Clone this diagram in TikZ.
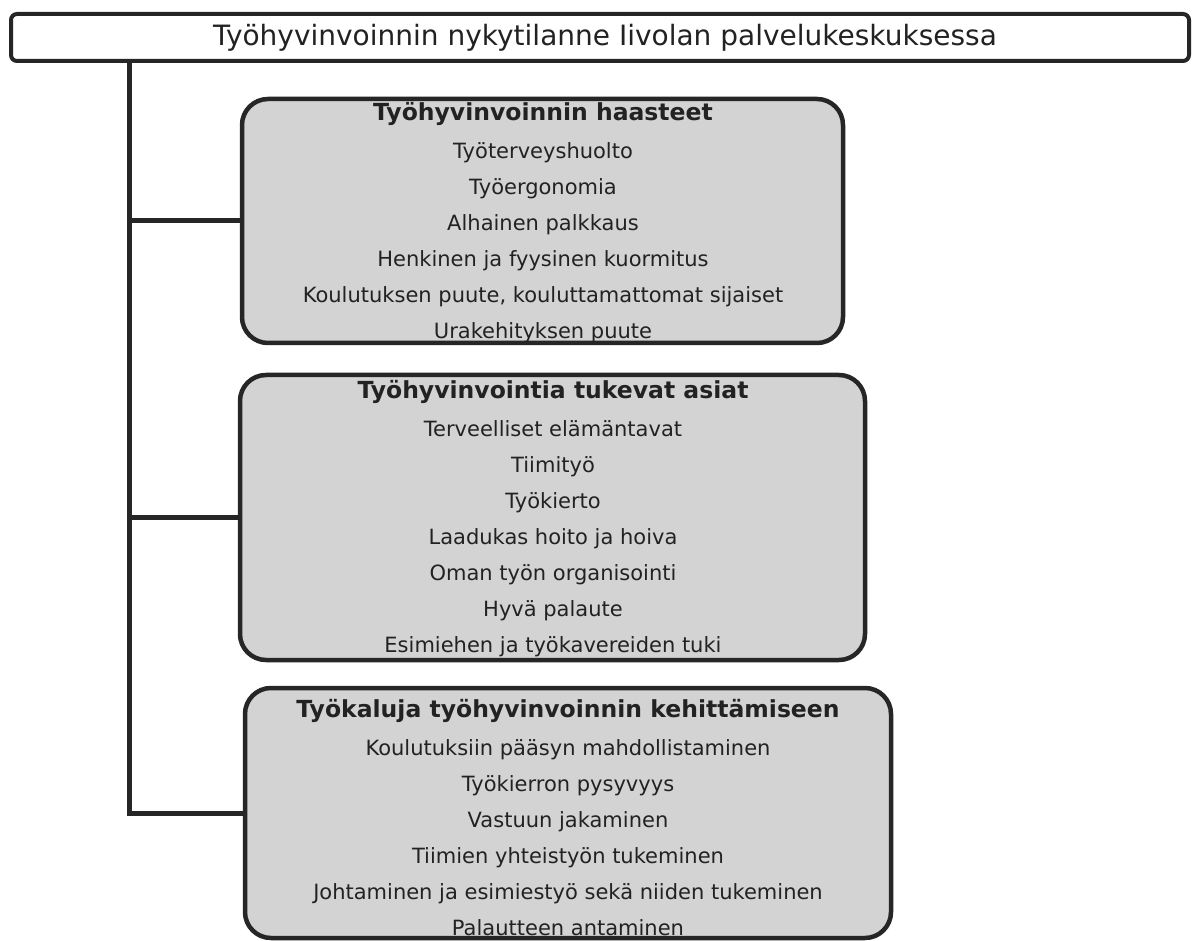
\documentclass[tikz,border=0pt]{standalone}
\usepackage{fontspec}
\setmainfont{DejaVu Sans}
\definecolor{edge}{HTML}{262626}
\definecolor{boxfill}{HTML}{D3D3D3}
\definecolor{ink}{HTML}{222222}
\newcommand{\grouphead}[1]{{\fontsize{23.5}{36}\selectfont\bfseries #1}}
\begin{document}
\begin{tikzpicture}[x=1pt,y=-1pt,
  titlebox/.style={draw=edge,line width=4pt,rounded corners=6pt,fill=white,
    minimum width=1178pt,minimum height=47pt,inner sep=0pt},
  titletext/.style={inner sep=0pt,font=\fontsize{28}{32}\selectfont,text=ink},
  groupbox/.style={draw=edge,line width=4.5pt,rounded corners=26pt,fill=boxfill,
    inner sep=0pt},
  grouptext/.style={inner sep=0pt,align=center,text=ink,
    font=\fontsize{21}{36}\selectfont},
  link/.style={draw=edge,line width=5pt}]
\useasboundingbox (0,0) rectangle (1192,941);
\node[titlebox] (title) at (600,37.5) {};
\node[titletext] (titlelabel) at (605,37.5) {Työhyvinvoinnin nykytilanne Iivolan palvelukeskuksessa};
\node[groupbox,minimum width=601pt,minimum height=244pt] (b1) at (542.5,221) {};
\node[grouptext] (t1) at (543,222.5)
  {\grouphead{Työhyvinvoinnin haasteet}\\[2pt]
   Työterveyshuolto\\ Työergonomia\\ Alhainen palkkaus\\
   Henkinen ja fyysinen kuormitus\\
   Koulutuksen puute, kouluttamattomat sijaiset\\
   Urakehityksen puute};
\node[groupbox,minimum width=625pt,minimum height=285pt] (b2) at (552.5,517.5) {};
\node[grouptext] (t2) at (553,518.5)
  {\grouphead{Työhyvinvointia tukevat asiat}\\[2pt]
   Terveelliset elämäntavat\\ Tiimityö\\ Työkierto\\
   Laadukas hoito ja hoiva\\ Oman työn organisointi\\
   Hyvä palaute\\ Esimiehen ja työkavereiden tuki};
\node[groupbox,minimum width=646pt,minimum height=250pt] (b3) at (568,813) {};
\node[grouptext] (t3) at (568,817.5)
  {\grouphead{Työkaluja työhyvinvoinnin kehittämiseen}\\[2pt]
   Koulutuksiin pääsyn mahdollistaminen\\ Työkierron pysyvyys\\
   Vastuun jakaminen\\ Tiimien yhteistyön tukeminen\\
   Johtaminen ja esimiestyö sekä niiden tukeminen\\
   Palautteen antaminen};
\coordinate (spine) at (129,0);
\draw[link] (title.south -| spine) |- (b3.west);
\draw[link] (b1.west -| spine) -- (b1.west);
\draw[link] (b2.west -| spine) -- (b2.west);
\end{tikzpicture}
\end{document}
